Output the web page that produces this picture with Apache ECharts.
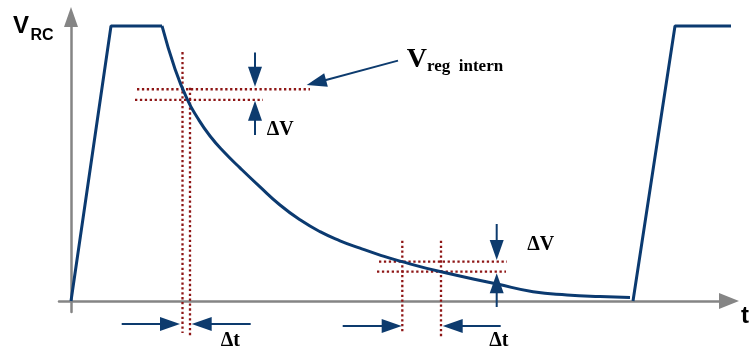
<!DOCTYPE html>
<html>
<head>
<meta charset="utf-8">
<script src="https://cdn.jsdelivr.net/npm/echarts@6/dist/echarts.min.js"></script>
<style>
  html, body { margin: 0; padding: 0; background: #ffffff; }
  #chart { width: 752px; height: 351px; }
</style>
</head>
<body>
<div id="chart"></div>
<script>
// RC voltage during one regulation cycle (time in arbitrary units, voltage normalised to the plateau)
const riseTime  = [0.0, 4.0, 9.1];
const riseVolt  = [0.0, 1.0, 1.0];

const decayTime = [9.1, 10.4, 11.65, 12.6, 13.9, 15.4, 16.9, 18.9, 20.9, 22.9, 24.9, 26.9, 28.9,
                   30.9, 32.9, 36.9, 42.6, 46.2, 49.6, 52.9, 55.9];
const decayVolt = [1.0, 0.844, 0.731, 0.669, 0.600, 0.538, 0.484, 0.415, 0.349, 0.295, 0.252, 0.219, 0.192,
                   0.167, 0.145, 0.107, 0.062, 0.034, 0.022, 0.016, 0.013];

const nextTime  = [56.2, 60.4, 66.1];
const nextVolt  = [0.0, 1.0, 1.0];

// Measurement guides: horizontal [tStart, tEnd, level], vertical [time, vStart, vEnd]
const guideLevels = [[6.6, 23.9, 0.770], [6.4, 19.2, 0.731], [30.8, 43.6, 0.143], [30.6, 43.5, 0.1065]];
const guideTimes  = [[11.15, 0.905, -0.116], [11.9, 0.775, -0.127], [33.13, 0.219, -0.116], [37.0, 0.219, -0.131]];

// Pointer arrows: [tail t, tail v, tip t, tip v]
const pointers = [
  [18.4, 0.904, 18.4, 0.779],
  [18.4, 0.604, 18.4, 0.728],
  [5.07, -0.0836, 10.9, -0.0836],
  [17.97, -0.0836, 12.07, -0.0836],
  [32.7, 0.874, 23.57, 0.785],
  [42.57, 0.280, 42.57, 0.149],
  [42.57, -0.0218, 42.57, 0.1007],
  [27.17, -0.0909, 33.07, -0.0909],
  [42.97, -0.0909, 37.17, -0.0909]
];

// Annotation texts anchored in data space: [t, v, text, style]
const notes = [
  [19.57, 0.6236, 'ΔV', 'delta'],
  [45.63, 0.2025, 'ΔV', 'delta'],
  [14.97, -0.1447, 'Δt', 'delta'],
  [41.83, -0.1447, 'Δt', 'delta'],
  [33.57, 0.8764, 'V', 'vreg'],
  [35.6, 0.851, 'reg  intern', 'vregSub']
];

const WAVE = '#0b3a70';
const GUIDE = '#8e1616';
const ARROW = '#0d3b6e';
const AXIS = '#858585';

const zip = (a, b) => a.map((x, i) => [x, b[i]]);

const chart = echarts.init(document.getElementById('chart'), null, { renderer: 'canvas' });

const waveLine = { type: 'line', symbol: 'none', clip: false, silent: true,
  lineStyle: { color: WAVE, width: 3 }, z: 5 };

const guideStyle = { stroke: GUIDE, lineWidth: 2.3, lineDash: [2.3, 2.6] };

chart.setOption({
  animation: false,
  backgroundColor: '#ffffff',
  grid: { left: 59, right: 23, top: 17, bottom: 39 },
  xAxis: {
    type: 'value', min: -1.2, max: 65.8,
    axisLine: { onZero: true, lineStyle: { color: AXIS, width: 2.5 },
      symbol: ['none', 'triangle'], symbolSize: [16, 20] },
    axisTick: { show: false }, axisLabel: { show: false }, splitLine: { show: false }
  },
  yAxis: {
    type: 'value', min: -0.04, max: 1.0327,
    axisLine: { onZero: true, lineStyle: { color: AXIS, width: 2.5 },
      symbol: ['none', 'triangle'], symbolSize: [14, 20] },
    axisTick: { show: false }, axisLabel: { show: false }, splitLine: { show: false }
  },
  series: [
    Object.assign({ name: 'rise', data: zip(riseTime, riseVolt) }, waveLine),
    Object.assign({ name: 'decay', data: zip(decayTime, decayVolt), smooth: 0.5 }, waveLine),
    Object.assign({ name: 'next', data: zip(nextTime, nextVolt) }, waveLine),
    {
      type: 'custom', name: 'levels', silent: true, z: 3,
      data: guideLevels,
      renderItem: (params, api) => {
        const a = api.coord([api.value(0), api.value(2)]);
        const b = api.coord([api.value(1), api.value(2)]);
        return { type: 'line', shape: { x1: a[0], y1: a[1], x2: b[0], y2: b[1] }, style: guideStyle };
      }
    },
    {
      type: 'custom', name: 'times', silent: true, z: 3,
      data: guideTimes,
      renderItem: (params, api) => {
        const a = api.coord([api.value(0), api.value(1)]);
        const b = api.coord([api.value(0), api.value(2)]);
        return { type: 'line', shape: { x1: a[0], y1: a[1], x2: b[0], y2: b[1] }, style: guideStyle };
      }
    },
    {
      type: 'custom', name: 'pointers', silent: true, z: 6,
      data: pointers,
      renderItem: (params, api) => {
        const a = api.coord([api.value(0), api.value(1)]);
        const b = api.coord([api.value(2), api.value(3)]);
        const dx = b[0] - a[0], dy = b[1] - a[1];
        const len = Math.hypot(dx, dy);
        const ux = dx / len, uy = dy / len;
        const hl = 20, hw = 7;
        const bx = b[0] - ux * hl, by = b[1] - uy * hl;
        return {
          type: 'group',
          children: [
            { type: 'line', shape: { x1: a[0], y1: a[1], x2: bx + ux, y2: by + uy },
              style: { stroke: ARROW, lineWidth: 2 } },
            { type: 'polygon',
              shape: { points: [[b[0], b[1]], [bx - uy * hw, by + ux * hw], [bx + uy * hw, by - ux * hw]] },
              style: { fill: ARROW } }
          ]
        };
      }
    }
  ]
});

const noteStyles = {
  delta:   { font: 'bold 20px "Liberation Serif", "Times New Roman", serif' },
  vreg:    { font: 'bold 28px "Liberation Serif", "Times New Roman", serif' },
  vregSub: { font: 'bold 17px "Liberation Serif", "Times New Roman", serif' }
};

const texts = notes.map(([t, v, str, kind]) => {
  const p = chart.convertToPixel({ gridIndex: 0 }, [t, v]);
  return { type: 'text', x: p[0], y: p[1], z: 10, silent: true,
    style: { text: str, font: noteStyles[kind].font, fill: '#000000',
      textAlign: 'left', textVerticalAlign: 'middle' } };
});

// Axis names
texts.push(
  { type: 'text', x: 13, y: 26.7, z: 10, silent: true,
    style: { text: 'V', font: 'bold 24px "Liberation Sans", Arial, sans-serif', fill: '#000',
      textAlign: 'left', textVerticalAlign: 'middle' } },
  { type: 'text', x: 30.5, y: 35.2, z: 10, silent: true,
    style: { text: 'RC', font: 'bold 16px "Liberation Sans", Arial, sans-serif', fill: '#000',
      textAlign: 'left', textVerticalAlign: 'middle' } },
  { type: 'text', x: 741, y: 316.7, z: 10, silent: true,
    style: { text: 't', font: 'bold 24px "Liberation Sans", Arial, sans-serif', fill: '#000',
      textAlign: 'left', textVerticalAlign: 'middle' } }
);

chart.setOption({ graphic: texts });
</script>
</body>
</html>
